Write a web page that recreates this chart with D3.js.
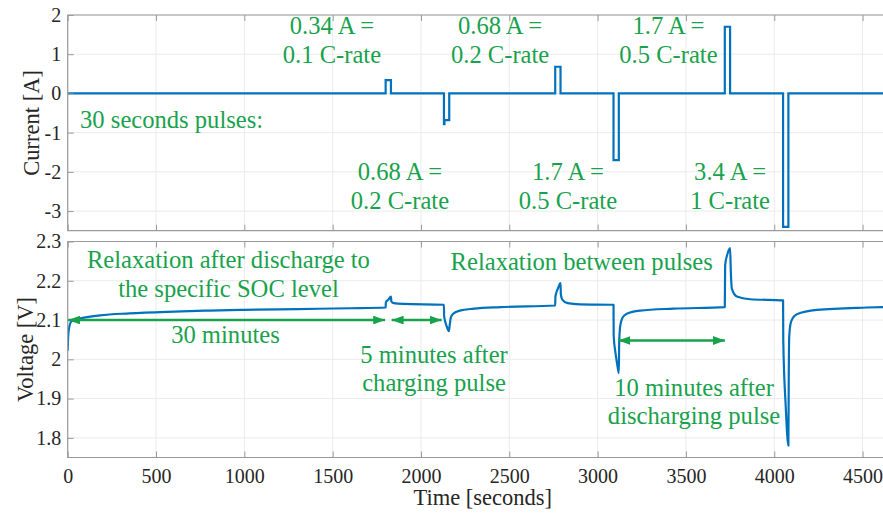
<!DOCTYPE html>
<html><head><meta charset="utf-8">
<script src="https://cdn.jsdelivr.net/npm/d3@7"></script>
</head>
<body style="margin:0;padding:0;background:#fff">
<svg id="chart" width="883" height="514" style="font-family:'Liberation Serif'"></svg>
<script>
// ---------- data ----------
const currentTime  = [0, 1800, 1830, 2130, 2133, 2160, 2760, 2790, 3090, 3120, 3720, 3750, 4050, 4080, 4700];
const currentValue = [0, 0.34, 0, -0.78, -0.68, 0, 0.68, 0, -1.7, 0, 1.7, 0, -3.4, 0, 0];

const voltageTime = [0, 3, 8, 22, 60, 183, 350, 560, 800, 1000, 1300, 1600, 1800,
  1801, 1815, 1830, 1832, 1845, 1900, 2130,
  2131, 2145, 2158, 2162, 2170, 2185, 2220, 2300, 2450, 2760,
  2761, 2775, 2790, 2792, 2800, 2830, 2900, 3090,
  3091, 3100, 3110, 3120, 3122, 3128, 3140, 3165, 3240, 3430, 3720,
  3722, 3735, 3750, 3754, 3760, 3788, 3863, 4050,
  4051, 4065, 4080, 4082, 4085, 4092, 4105, 4128, 4241, 4524, 4700];
const voltageValue = [2.022, 2.06, 2.08, 2.097, 2.103, 2.112, 2.117, 2.121, 2.124, 2.126, 2.128, 2.130, 2.132,
  2.145, 2.152, 2.160, 2.148, 2.143, 2.141, 2.139,
  2.11, 2.085, 2.072, 2.085, 2.108, 2.117, 2.124, 2.129, 2.133, 2.137,
  2.16, 2.18, 2.194, 2.165, 2.152, 2.143, 2.140, 2.139,
  2.06, 2.02, 1.99, 1.965, 2.04, 2.085, 2.105, 2.116, 2.124, 2.129, 2.133,
  2.24, 2.268, 2.283, 2.225, 2.18, 2.16, 2.153, 2.150,
  2.05, 1.88, 1.78, 1.95, 2.06, 2.09, 2.105, 2.115, 2.126, 2.132, 2.134];

const timeTicks = [0, 500, 1000, 1500, 2000, 2500, 3000, 3500, 4000, 4500];
const currentTicks = [-3, -2, -1, 0, 1, 2];
const voltageTicks = [1.8, 1.9, 2.0, 2.1, 2.2, 2.3];
const voltageTickLabels = ["1.8", "1.9", "2", "2.1", "2.2", "2.3"];

// annotations (data units)
const currentNotes = [
  {lines: ["0.34 A =", "0.1 C-rate"], t: 1496, v: [1.516, 0.776]},
  {lines: ["0.68 A =", "0.2 C-rate"], t: 2448, v: [1.516, 0.776]},
  {lines: ["1.7 A =", "0.5 C-rate"], t: 3401, v: [1.516, 0.776]},
  {lines: ["0.68 A =", "0.2 C-rate"], t: 1881, v: [-2.207, -2.946]},
  {lines: ["1.7 A =", "0.5 C-rate"], t: 2832, v: [-2.207, -2.946]},
  {lines: ["3.4 A =", "1 C-rate"], t: 3750, v: [-2.207, -2.946]}
];
const pulseNote = {text: "30 seconds pulses:", t: 70, v: -0.881};
const voltageNotes = [
  {lines: ["Relaxation after discharge to", "the specific SOC level"], t: 910, v: [2.2325, 2.1587]},
  {lines: ["30 minutes"], t: 893, v: [2.0415]},
  {lines: ["5 minutes after", "charging pulse"], t: 2074, v: [1.9906, 1.9193]},
  {lines: ["Relaxation between pulses"], t: 2910, v: [2.2274]},
  {lines: ["10 minutes after", "discharging pulse"], t: 3546, v: [1.9066, 1.8353]}
];
const arrows = [
  {t0: 3, t1: 1797, v: 2.1},
  {t0: 1834, t1: 2117, v: 2.1},
  {t0: 3117, t1: 3721, v: 2.048}
];

// ---------- drawing ----------
const FONT = "Liberation Serif";
const svg = d3.select("#chart");
const BLUE = "#0072BD", GREEN = "#19a24c", AX = "#9a9a9a", TXT = "#262626", GRID = "#ebebeb";

const x = d3.scaleLinear().domain([0, 4700]).range([67.7, 897.9]);
const yI = d3.scaleLinear().domain([-3.5, 2]).range([230.7, 15]);
const yV = d3.scaleLinear().domain([1.75, 2.3]).range([457.5, 241.5]);

function txt(sel, size, color) {
  return sel.attr("font-family", FONT).style("font-family", "'" + FONT + "'")
    .attr("font-size", size).style("font-size", size + "px").attr("fill", color);
}

const defs = svg.append("defs");
["s", "e"].forEach(k => {
  defs.append("marker").attr("id", "arr-" + k)
    .attr("viewBox", "0 0 10 10").attr("refX", k === "e" ? 10 : 0).attr("refY", 5)
    .attr("markerWidth", 4.6).attr("markerHeight", 3.4).attr("markerUnits", "strokeWidth")
    .attr("orient", "auto").attr("preserveAspectRatio", "none")
    .append("path").attr("d", k === "e" ? "M0,0 L10,5 L0,10 Z" : "M10,0 L0,5 L10,10 Z")
    .attr("fill", GREEN);
});
[["top", yI], ["bot", yV]].forEach(([id, y]) => {
  defs.append("clipPath").attr("id", "clip-" + id).append("rect")
    .attr("x", x.range()[0]).attr("y", y.range()[1])
    .attr("width", x.range()[1] - x.range()[0]).attr("height", y.range()[0] - y.range()[1]);
});

function grid(y, ticks) {
  const g = svg.append("g");
  const [x0, x1] = x.range();
  const [yb, yt] = y.range();
  g.append("g").selectAll("line").data(timeTicks).join("line")
    .attr("x1", d => x(d)).attr("x2", d => x(d)).attr("y1", yt).attr("y2", yb)
    .attr("stroke", GRID).attr("stroke-width", 1);
  g.append("g").selectAll("line").data(ticks).join("line")
    .attr("x1", x0).attr("x2", x1).attr("y1", d => y(d)).attr("y2", d => y(d))
    .attr("stroke", GRID).attr("stroke-width", 1);
}
function frame(y, ticks, tickLabels, showX) {
  const g = svg.append("g");
  const [x0, x1] = x.range();
  const [yb, yt] = y.range();
  g.append("path").attr("d", `M${x1},${yt} H${x0} V${yb} H${x1}`)
    .attr("fill", "none").attr("stroke", AX).attr("stroke-width", 1.2);
  const ay = g.append("g").attr("transform", `translate(${x0},0)`)
    .call(d3.axisLeft(y).tickValues(ticks).tickSize(-6).tickPadding(6.5)
      .tickFormat((d, i) => tickLabels[i]));
  ay.attr("font-family", FONT);
  ay.select(".domain").remove();
  ay.selectAll("line").attr("stroke", AX);
  txt(ay.selectAll("text"), 20, TXT);
  const ax = g.append("g").attr("transform", `translate(0,${yb})`)
    .call(d3.axisBottom(x).tickValues(timeTicks).tickSize(-6).tickPadding(11.3)
      .tickFormat(showX ? d3.format("d") : ""));
  ax.attr("font-family", FONT);
  ax.select(".domain").remove();
  ax.selectAll("line").attr("stroke", AX);
  txt(ax.selectAll("text"), 20, TXT);
  const at = g.append("g").attr("transform", `translate(0,${yt})`)
    .call(d3.axisTop(x).tickValues(timeTicks).tickSize(-6).tickFormat(""));
  at.select(".domain").remove();
  at.selectAll("line").attr("stroke", AX);
}

grid(yI, currentTicks);
grid(yV, voltageTicks);

const curData = currentTime.map((t, i) => [t, currentValue[i]]);
svg.append("path").datum(curData)
  .attr("clip-path", "url(#clip-top)")
  .attr("d", d3.line().x(d => x(d[0])).y(d => yI(d[1])).curve(d3.curveStepAfter))
  .attr("fill", "none").attr("stroke", BLUE).attr("stroke-width", 2.2).attr("stroke-linejoin", "miter");

const volData = voltageTime.map((t, i) => [t, voltageValue[i]]);
svg.append("path").datum(volData)
  .attr("clip-path", "url(#clip-bot)")
  .attr("d", d3.line().x(d => x(d[0])).y(d => yV(d[1])).curve(d3.curveMonotoneX))
  .attr("fill", "none").attr("stroke", BLUE).attr("stroke-width", 2.2).attr("stroke-linejoin", "round");

frame(yI, currentTicks, currentTicks.map(String), false);
frame(yV, voltageTicks, voltageTickLabels, true);

txt(svg.append("text").attr("transform", `translate(39,${(yI.range()[0] + yI.range()[1]) / 2}) rotate(-90)`)
  .attr("text-anchor", "middle"), 22.5, TXT).text("Current [A]");
txt(svg.append("text").attr("transform", `translate(33,${(yV.range()[0] + yV.range()[1]) / 2}) rotate(-90)`)
  .attr("text-anchor", "middle"), 22.5, TXT).text("Voltage [V]");
txt(svg.append("text").attr("x", (x.range()[0] + x.range()[1]) / 2).attr("y", 505)
  .attr("text-anchor", "middle"), 22.5, TXT).text("Time [seconds]");

function notes(list, y) {
  list.forEach(n => {
    n.lines.forEach((s, i) => {
      txt(svg.append("text").attr("x", x(n.t)).attr("y", y(n.v[i]))
        .attr("text-anchor", "middle"), 24.6, GREEN).text(s);
    });
  });
}
notes(currentNotes, yI);
notes(voltageNotes, yV);
txt(svg.append("text").attr("x", x(pulseNote.t)).attr("y", yI(pulseNote.v)), 24.6, GREEN).text(pulseNote.text);

svg.append("g").selectAll("line").data(arrows).join("line")
  .attr("x1", d => x(d.t0)).attr("x2", d => x(d.t1))
  .attr("y1", d => yV(d.v)).attr("y2", d => yV(d.v))
  .attr("stroke", GREEN).attr("stroke-width", 2.6)
  .attr("marker-start", "url(#arr-s)").attr("marker-end", "url(#arr-e)");
</script>
</body></html>
